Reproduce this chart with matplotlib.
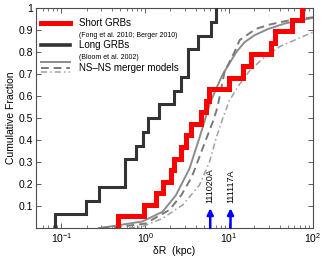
import numpy as np
import matplotlib
matplotlib.use("Agg")
import matplotlib.pyplot as plt
from matplotlib.lines import Line2D
from matplotlib.legend_handler import HandlerBase

plt.rcParams.update({
    "font.family": ["Liberation Sans", "DejaVu Sans"],
    "font.size": 7.5,
    "mathtext.fontset": "custom",
    "mathtext.rm": "Liberation Sans",
    "mathtext.it": "Liberation Sans:italic",
})

# ============================================================
# Data
# ============================================================

# projected offsets dR (kpc), one entry per burst
short_dr = [0.48, 0.97, 1.34, 1.61, 2.03, 2.22, 2.68, 3.07, 3.53, 4.6,
            5.33, 5.84, 10.1, 14.6, 18.4, 32.0, 35.0, 55.6, 73.0]
long_dr = [0.085, 0.195, 0.281, 0.576, 0.576, 0.774, 0.929, 1.066,
           1.47, 2.23, 2.68, 3.21, 3.21, 4.23, 6.12, 7.03]

# NS-NS merger model curves
model_a_x = [0.28, 0.37, 0.93, 1.61, 2.33, 3.37, 4.43, 5.84, 7.03, 8.43,
             12.2, 15.3, 20.2, 29.2, 46.2, 73.2, 100.0]
model_a_y = [0.0, 0.006, 0.03, 0.074, 0.15, 0.27, 0.41, 0.56, 0.635, 0.70,
             0.80, 0.845, 0.877, 0.905, 0.93, 0.945, 0.956]

model_b_x = [0.30, 0.45, 1.0, 1.94, 2.7, 3.6, 5.1, 6.5, 7.28, 8.83,
             11.6, 13.4, 15.3, 20.8, 30.5, 46.2, 66.0, 100.0]
model_b_y = [0.0, 0.004, 0.02, 0.082, 0.15, 0.233, 0.385, 0.49, 0.55, 0.71,
             0.80, 0.855, 0.87, 0.905, 0.925, 0.94, 0.95, 0.958]

model_c_x = [0.64, 0.92, 1.61, 2.8, 4.43, 5.84, 7.03, 8.43, 10.1, 13.4,
             17.6, 25.2, 40.3, 69.8, 100.0]
model_c_y = [0.0, 0.006, 0.044, 0.105, 0.195, 0.30, 0.41, 0.50, 0.58, 0.655,
             0.715, 0.77, 0.825, 0.865, 0.89]

# host offsets of the two new bursts
burst_dr = [5.96, 10.4]
burst_names = ["111020A", "111117A"]
arrow_top = 0.09

ytick_vals = [0.1, 0.2, 0.3, 0.4, 0.5, 0.6, 0.7, 0.8, 0.9, 1.0]
ytick_labels = ["0.1", "0.2", "0.3", "0.4", "0.5", "0.6", "0.7", "0.8", "0.9", "1"]

legend_labels = ["Short GRBs", "(Fong et al. 2010; Berger 2010)",
                 "Long GRBs", "(Bloom et al. 2002)", "NS\u2013NS merger models"]

# ============================================================
# Styles
# ============================================================

RED = "#ff0000"
DARK = "#333333"
models = [
    dict(ls="-", color="#8c8c8c", lw=1.4),
    dict(ls=(0, (4, 2.5)), color="#7a7a7a", lw=1.4),
    dict(ls=(0, (4, 2, 1, 2)), color="#a0a0a0", lw=1.1),
]


def cdf_steps(vals):
    v = np.sort(np.asarray(vals, dtype=float))
    n = len(v)
    xs = np.concatenate([[v[0]], v])
    ys = np.concatenate([[0.0], np.arange(1, n + 1) / n])
    return xs, ys


class StackedModels:
    pass


class StackedHandler(HandlerBase):
    offsets = [0.52, -0.05, -0.45]

    def create_artists(self, legend, orig_handle, xdescent, ydescent,
                       width, height, fontsize, trans):
        yc = (height - ydescent) / 2
        arts = []
        for off, st in zip(self.offsets, models):
            y = yc + off * fontsize
            ln = Line2D([-xdescent, width - xdescent], [y, y],
                        linestyle=st["ls"], color=st["color"], lw=st["lw"])
            ln.set_transform(trans)
            arts.append(ln)
        return arts


# ============================================================
# Figure
# ============================================================

fig = plt.figure(figsize=(3.25, 2.6), dpi=100)
ax = fig.add_axes([0.111, 0.123, 0.852, 0.846])

for mx, my, st in zip([model_a_x, model_b_x, model_c_x],
                      [model_a_y, model_b_y, model_c_y], models):
    ax.plot(mx, my, linestyle=st["ls"], color=st["color"], lw=st["lw"], zorder=2)

lx, ly = cdf_steps(long_dr)
ax.plot(lx, ly, drawstyle="steps-post", color=DARK, lw=2.2,
        solid_joinstyle="miter", zorder=3)

sx, sy = cdf_steps(short_dr)
ax.plot(sx, sy, drawstyle="steps-post", color=RED, lw=3.6,
        solid_joinstyle="miter", zorder=4)

for xb, name in zip(burst_dr, burst_names):
    ax.annotate("", xy=(xb, arrow_top), xytext=(xb, 0.0),
                arrowprops=dict(arrowstyle="-|>", color="#0000ff", lw=1.8,
                                mutation_scale=9, shrinkA=0, shrinkB=0),
                zorder=5)
    ax.text(xb, 0.115, name, rotation=90, ha="center", va="bottom",
            fontsize=6.5, color="black")

ax.set_xscale("log")
ax.set_xlim(0.05, 100)
ax.set_ylim(0, 1)
ax.set_yticks(ytick_vals)
ax.set_yticklabels(ytick_labels)
ax.minorticks_on()
ax.yaxis.set_minor_locator(matplotlib.ticker.NullLocator())

ax.tick_params(which="both", direction="in", top=True, right=True,
               color="#444444", labelsize=7.5, pad=2)
ax.tick_params(which="major", length=3.5, width=0.6)
ax.tick_params(which="minor", length=2, width=0.5)
for sp in ax.spines.values():
    sp.set_color("#4d4d4d")
    sp.set_linewidth(0.8)

ax.set_xlabel("\u03b4R  (kpc)", fontsize=7.5, labelpad=1)
ax.set_ylabel("Cumulative Fraction", fontsize=7.5, labelpad=2)

handles = [Line2D([], [], color=RED, lw=3.6),
           Line2D([], [], linestyle="none"),
           Line2D([], [], color=DARK, lw=2.6),
           Line2D([], [], linestyle="none"),
           StackedModels()]
leg = ax.legend(handles, legend_labels, loc="upper left",
                bbox_to_anchor=(0.0, 0.977), frameon=False,
                fontsize=7, handlelength=3.0, handletextpad=0.9,
                labelspacing=0.18, borderaxespad=0.3, borderpad=0.2,
                handler_map={StackedModels: StackedHandler()})
for i in (1, 3):
    leg.get_texts()[i].set_fontsize(5)

fig.savefig("out.png", dpi=100)
